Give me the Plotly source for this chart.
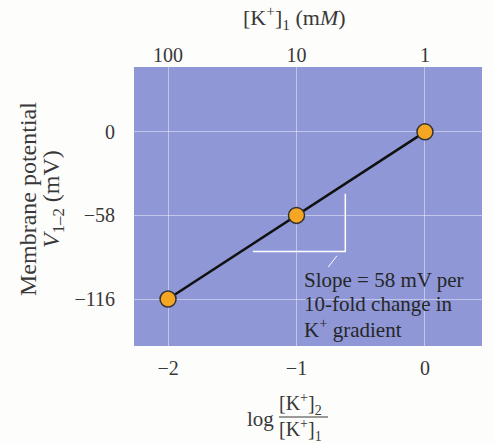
import plotly.graph_objects as go

# Data
log_ratio = [-2, -1, 0]
potential = [-116, -58, 0]
bottom_ticks = [-2, -1, 0]
bottom_labels = ["\u22122", "\u22121", "0"]
top_labels = ["100", "10", "1"]
y_ticks = [0, -58, -116]
y_labels = ["0", "\u221258", "\u2212116"]
slope_x = [-1.34, -0.62, -0.62]
slope_y = [-83, -83, -43]
slope_lines = ["Slope = 58 mV per", "10-fold change in", "K<sup>+</sup> gradient"]
slope_line_y = [-103, -119.7, -136.4]

FONT = "Liberation Serif"
TXT = "#383838"
BG = "#8f97d6"
L, R, T, B = 134, 12, 67, 97
W, H = 494, 443
PW, PH = W - L - R, H - T - B


def px(x):
    return (x - L) / PW


def py(y):
    return (H - B - y) / PH


fig = go.Figure()
fig.add_trace(go.Scatter(x=slope_x, y=slope_y, mode="lines",
                         line=dict(color="white", width=1.5), hoverinfo="skip", showlegend=False))
fig.add_trace(go.Scatter(x=log_ratio, y=potential, mode="lines+markers",
                         line=dict(color="#111111", width=2.5),
                         marker=dict(size=16, color="#f5a623", line=dict(color="#333333", width=1.5)),
                         showlegend=False))
fig.add_trace(go.Scatter(x=log_ratio, y=potential, xaxis="x2", mode="markers",
                         marker=dict(opacity=0), hoverinfo="skip", showlegend=False))

fig.update_layout(
    width=W, height=H,
    margin=dict(l=L, r=R, t=T, b=B, autoexpand=False),
    paper_bgcolor="#fdfdfb", plot_bgcolor=BG,
    font=dict(family=FONT, size=20, color=TXT),
    xaxis=dict(range=[-2.265, 0.444], tickvals=bottom_ticks, ticktext=bottom_labels,
               showgrid=True, gridcolor="rgba(255,255,255,0.45)", gridwidth=1, automargin=False,
               zeroline=False, showline=False, ticks="", ticklabelstandoff=8),
    xaxis2=dict(range=[-2.265, 0.444], overlaying="x", side="top", tickvals=bottom_ticks,
                ticktext=top_labels, showgrid=False, zeroline=False, ticks="", automargin=False,
                ticklabelstandoff=0),
    yaxis=dict(range=[-148.6, 45], tickvals=y_ticks, ticktext=y_labels, automargin=False,
               showgrid=True, gridcolor="rgba(255,255,255,0.45)", gridwidth=1,
               zeroline=False, showline=False, ticks="", ticklabelstandoff=18),
)

# top axis title
fig.add_annotation(xref="paper", yref="paper", x=px(294), y=py(17), xanchor="center", yanchor="middle",
                   text="[K<sup>+</sup>]<sub>1</sub> (m<i>M</i>)", showarrow=False, font=dict(size=22))

# y-axis title (two lines)
fig.add_annotation(xref="paper", yref="paper", x=px(28), y=py(199), xanchor="center", yanchor="middle",
                   textangle=-90, text="Membrane potential", showarrow=False, font=dict(size=24))
fig.add_annotation(xref="paper", yref="paper", x=px(53), y=py(199), xanchor="center", yanchor="middle",
                   textangle=-90, text="<i>V</i><sub>1\u20132</sub> (mV)", showarrow=False,
                   font=dict(size=24))

# slope annotation
fig.add_annotation(xref="x", yref="y", x=-0.685, y=-86, ax=-0.763, ay=-95, axref="x", ayref="y",
                   showarrow=True, arrowhead=0, arrowwidth=1, arrowcolor="white", text="")
for line, yy in zip(slope_lines, slope_line_y):
    fig.add_annotation(xref="x", yref="y", x=-0.955, y=yy, xanchor="left", yanchor="middle",
                       text=line, showarrow=False, font=dict(size=21, color="#262626"))

# bottom axis title: log fraction
fig.add_annotation(xref="paper", yref="paper", x=px(276), y=py(419), xanchor="right", yanchor="middle",
                   text="log", showarrow=False, font=dict(size=21))
fig.add_annotation(xref="paper", yref="paper", x=px(277), y=py(404), xanchor="left", yanchor="middle",
                   text="[K<sup>+</sup>]<sub>2</sub>", showarrow=False, font=dict(size=20))
fig.add_annotation(xref="paper", yref="paper", x=px(277), y=py(430), xanchor="left", yanchor="middle",
                   text="[K<sup>+</sup>]<sub>1</sub>", showarrow=False, font=dict(size=20))
fig.add_shape(type="line", xref="paper", yref="paper", x0=px(279), x1=px(328), y0=py(417), y1=py(417),
              line=dict(color=TXT, width=1))

fig.write_html("out.html", config={"displayModeBar": False},
               post_script="document.body.style.margin='0';")
